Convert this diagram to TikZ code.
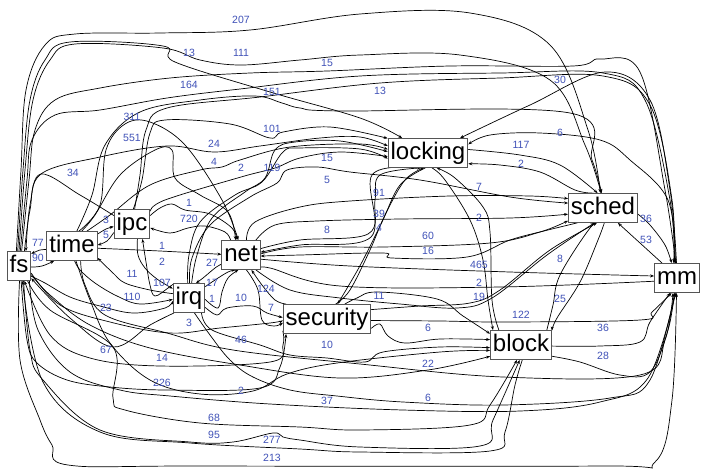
\documentclass[tikz,border=0pt]{standalone}
\usepackage{fontspec}
\setmainfont{Liberation Sans}
\usetikzlibrary{arrows.meta}
\pgfdeclarelayer{bg}
\pgfsetlayers{bg,main}
\definecolor{lblblue}{RGB}{64,82,184}
\definecolor{boxgray}{RGB}{85,85,85}
\tikzset{
  box/.style={draw=boxgray, line width=0.8pt, fill=white, font=\fontsize{24}{24}\selectfont,
    inner xsep=2.5pt, inner ysep=3.25pt, text height=17.5pt, text depth=5pt},
  e/.style={line width=0.7pt, black, -{Stealth[length=4pt,width=3pt]}},
  lbl/.style={font=\fontsize{10.5}{10.5}\selectfont, text=lblblue, inner sep=0pt},
}
\newcommand\myedge[1]{\draw[e] plot[smooth,tension=0.6] coordinates {#1};}
\newcommand\mylab[3]{\node[lbl] (#1) at (#2) {#3};}
\begin{document}
\begin{tikzpicture}[x=1pt,y=-1pt]
\useasboundingbox (0,0) rectangle (704,475);
\begin{pgfonlayer}{bg}
\fill[white] (0,0) rectangle (704,475);
\end{pgfonlayer}
% nodes
\node[box] (fs) at (19,266) {fs};
\node[box] (time) at (72,246) {time};
\node[box] (ipc) at (132,224) {ipc};
\node[box] (net) at (241,255) {net};
\node[box] (irq) at (189,298) {irq};
\node[box] (security) at (327,319) {security};
\node[box] (locking) at (428,153) {locking};
\node[box] (sched) at (603,208) {sched};
\node[box] (block) at (521,345) {block};
\node[box] (mm) at (677,278) {mm};
\begin{pgfonlayer}{bg}
% top long edges
\myedge{(fs.100) (21,170) (26,90) (45,45) (75,34) (160,33) (250,30) (360,14) (470,13) (550,45) (588,130) (sched.100)}
\myedge{(fs.95) (23,170) (30,100) (45,60) (70,42) (163,46) (175,62) (270,92) (360,118) (locking.150)}
\myedge{(fs.90) (25,170) (33,100) (50,60) (75,44) (163,48) (200,60) (241,65) (300,60) (360,55) (460,55) (550,80) (585,145) (sched.97)}
\myedge{(fs.85) (27,180) (32,140) (55,115) (100,110) (167,98) (240,89) (360,76) (500,73) (603,73) (645,100) (670,200) (mm.100)}
\myedge{(fs.80) (29,180) (35,130) (55,100) (100,88) (170,78) (250,73) (327,71) (450,66) (573,66) (600,59) (640,72) (665,190) (mm.95)}
\myedge{(ipc.80) (140,175) (146,130) (167,108) (260,97) (380,83) (500,78) (603,76) (650,105) (672,200) (mm.103)}
\myedge{(mm.92) (670,190) (650,100) (605,72) (530,105) (locking.25)}
\myedge{(time.65) (100,205) (106,150) (125,124) (150,122) (185,145) (222,200) (net.100)}
\myedge{(time.57) (95,215) (120,175) (155,150) (172,150) (175,178) (200,195) (228,212) (net.110)}
\myedge{(time.72) (92,195) (105,145) (140,112) (200,100) (255,96) (282,103) (300,108) (340,111) (570,113) (592,160) (sched.95)}
\myedge{(ipc.85) (142,180) (150,133) (165,120) (230,124) (270,138) (283,132) (330,127) (locking.160)}
\myedge{(fs.70) (30,210) (41,174) (100,157) (167,146) (214,152) (260,146) (320,138) (360,137) (locking.170)}
\myedge{(ipc.155) (80,195) (41,174) (30,205) (fs.65)}
\myedge{(time.45) (110,215) (150,185) (200,170) (222,167) (240,160) (290,147) (360,144) (locking.175)}
\myedge{(ipc.35) (165,200) (241,177) (275,168) (300,158) (340,152) (locking.185)}
\myedge{(irq.80) (197,255) (212,218) (245,192) (265,178) (275,150) (295,142) (340,141) (locking.178)}
\myedge{(irq.95) (189,255) (200,222) (235,195) (262,182) (283,152) (300,148) (360,149) (locking.188)}
\myedge{(irq.88) (192,258) (210,225) (250,197) (277,183) (287,170) (317,167) (350,172) (420,180) (510,197) (sched.172)}
\myedge{(net.70) (255,222) (300,207) (350,201) (450,196) (530,196) (sched.165)}
\myedge{(net.45) (275,225) (317,221) (400,219) (510,218) (sched.190)}
\myedge{(net.18) (300,240) (368,234) (375,200) (380,175) (locking.-115)}
\myedge{(locking.-125) (372,175) (371,237) (300,245) (net.8)}
\myedge{(security.60) (350,290) (370,250) (385,215) (405,180) (locking.-105)}
\myedge{(locking.-100) (400,185) (382,222) (362,262) (346,290) (security.55)}
\myedge{(locking.-75) (445,180) (470,220) (483,260) (488,300) (block.152)}
\myedge{(block.146) (492,300) (490,232) (483,207) (455,178) (locking.-60)}
% locking / sched / mm
\myedge{(locking.5) (520,155) (560,165) (sched.110)}
\myedge{(sched.120) (575,190) (540,172) (500,165) (locking.-15)}
\myedge{(mm.96) (668,200) (630,160) (600,140) (540,133) (490,135) (locking.12)}
\myedge{(sched.-10) (650,225) (665,245) (mm.110)}
\myedge{(mm.135) (640,243) (sched.-45)}
\myedge{(net.3) (300,247) (383,247) (490,243) (540,232) (sched.-160)}
\myedge{(sched.-150) (548,230) (510,240) (467,257) (392,258) (383,253) (300,255) (net.-3)}
\myedge{(net.-12) (350,266) (510,272) (mm.175)}
\myedge{(mm.188) (500,287) (340,286) (270,268) (net.-35)}
\myedge{(net.-45) (290,290) (340,298) (400,304) (457,308) (492,298) (547,255) (sched.-120)}
\myedge{(security.12) (420,306) (470,303) (500,290) (550,250) (sched.-112)}
\myedge{(block.30) (553,305) (560,275) (590,228) (sched.-100)}
\myedge{(sched.-85) (598,240) (580,282) (557,318) (block.25)}
\myedge{(security.-2) (440,321) (507,322) (640,320) (652,312) (mm.-110)}
\myedge{(security.-12) (380,324) (388,336) (405,343) (440,339) (block.170)}
\myedge{(security.40) (357,298) (377,292) (437,299) (463,316) (block.160)}
\myedge{(block.-2) (600,346) (640,342) (650,322) (mm.-115)}
\myedge{(block.-20) (580,362) (620,375) (650,372) (668,330) (mm.-100)}
% left cluster
\myedge{(time.188) (40,250) (fs.45)}
\myedge{(fs.-5) (42,266) (time.-140)}
\myedge{(time.25) (106,229) (ipc.188)}
\myedge{(ipc.-155) (107,241) (time.2)}
\myedge{(time.-5) (160,251) (net.178)}
\myedge{(ipc.25) (160,208) (172,204) (185,210) (210,214) (232,228) (net.105)}
\myedge{(net.125) (225,232) (205,226) (188,228) (170,233) (ipc.-12)}
\myedge{(irq.165) (150,290) (125,283) (113,273) (time.-25)}
\myedge{(time.-80) (80,270) (95,283) (117,296) (140,304) (irq.-175)}
\myedge{(ipc.-70) (138,255) (145,268) (157,279) (irq.150)}
\myedge{(irq.140) (168,288) (155,296) (150,285) (146,262) (ipc.-55)}
\myedge{(fs.-40) (45,283) (70,297) (100,306) (133,313) (165,308) (irq.-170)}
\myedge{(net.-155) (215,268) (203,278) (irq.65)}
\myedge{(irq.35) (215,280) (228,272) (net.-110)}
\myedge{(irq.-5) (218,308) (222,292) (228,278) (net.-100)}
\myedge{(irq.-30) (217,315) (227,308) (253,306) (267,313) (security.178)}
\myedge{(security.160) (275,300) (262,285) (net.-55)}
\myedge{(net.-70) (258,290) (262,320) (274,326) (security.-175)}
\myedge{(fs.-30) (60,305) (110,322) (170,333) (220,328) (270,323) (security.-178)}
% bottom
\myedge{(time.-60) (85,285) (105,315) (167,333) (233,350) (360,364) (503,377) (640,375) (665,340) (mm.-105)}
\myedge{(irq.-135) (150,325) (113,347) (70,318) (fs.-45)}
\myedge{(fs.-60) (50,310) (113,347) (113,398) (125,410) (200,423) (300,427) (360,430) (470,425) (490,405) (block.-105)}
\myedge{(security.-165) (283,345) (270,362) (160,366) (90,358) (50,335) (fs.-70)}
\myedge{(fs.-82) (27,340) (37,363) (67,380) (110,387) (167,390) (260,388) (280,367) (security.-160)}
\myedge{(time.-75) (90,300) (110,343) (150,380) (200,394) (253,391) (287,374) (337,363) (440,352) (block.-170)}
\myedge{(fs.-35) (50,295) (90,325) (150,348) (240,365) (340,378) (428,370) (block.-160)}
\myedge{(irq.-50) (212,330) (260,345) (290,355) (327,358) (365,362) (383,352) (440,347) (block.-175)}
\myedge{(irq.-70) (210,335) (230,360) (253,377) (290,390) (337,396) (403,402) (503,405) (610,398) (650,380) (mm.-98)}
\myedge{(fs.-55) (38,330) (70,372) (120,390) (170,396) (270,404) (403,410) (520,411) (600,402) (648,378) (mm.-95)}
\myedge{(fs.-73) (30,350) (43,380) (100,430) (190,442) (233,442) (273,433) (283,437) (300,440) (360,447) (480,446) (493,420) (block.-95)}
\myedge{(block.-85) (515,385) (505,432) (490,451) (360,452) (300,449) (190,443) (100,432) (43,382) (fs.-77)}
\myedge{(fs.-88) (20,360) (40,420) (52,445) (68,465) (200,466) (600,466) (655,462) (672,400) (mm.-92)}
\end{pgfonlayer}
% labels
\mylab{a1}{241,20}{207}
\mylab{a2}{189,53}{13}
\mylab{a3}{241,53}{111}
\mylab{a4}{327,63}{15}
\mylab{a5}{189,85}{164}
\mylab{a6}{272,92}{151}
\mylab{a7}{380,91}{13}
\mylab{a8}{560,80}{30}
\mylab{a9}{132,117}{311}
\mylab{a10}{132,138}{551}
\mylab{a11}{272,129}{101}
\mylab{a12}{214,144}{24}
\mylab{a13}{560,133}{6}
\mylab{a14}{521,145}{117}
\mylab{a15}{214,162}{4}
\mylab{a16}{241,168}{2}
\mylab{a17}{272,168}{119}
\mylab{a18}{327,158}{15}
\mylab{a19}{521,164}{2}
\mylab{a20}{327,180}{5}
\mylab{a21}{73,173}{34}
\mylab{a22}{379,193}{91}
\mylab{a23}{479,187}{7}
\mylab{a24}{189,203}{1}
\mylab{a25}{189,219}{720}
\mylab{a26}{379,214}{39}
\mylab{a27}{479,218}{2}
\mylab{a28}{106,220}{3}
\mylab{a29}{106,235}{5}
\mylab{a30}{379,228}{4}
\mylab{a31}{327,230}{8}
\mylab{a32}{428,236}{60}
\mylab{a33}{38,243}{77}
\mylab{a34}{38,258}{90}
\mylab{a35}{162,246}{1}
\mylab{a36}{428,251}{16}
\mylab{a37}{479,265}{465}
\mylab{a38}{646,219}{36}
\mylab{a39}{646,240}{53}
\mylab{a40}{560,259}{8}
\mylab{a41}{132,274}{11}
\mylab{a42}{162,262}{2}
\mylab{a43}{162,283}{107}
\mylab{a44}{212,263}{27}
\mylab{a45}{212,283}{17}
\mylab{a46}{479,283}{2}
\mylab{a47}{479,297}{19}
\mylab{a48}{132,297}{110}
\mylab{a49}{212,299}{1}
\mylab{a50}{241,298}{10}
\mylab{a51}{266,289}{124}
\mylab{a52}{379,296}{11}
\mylab{a53}{560,299}{25}
\mylab{a54}{106,308}{23}
\mylab{a55}{271,308}{7}
\mylab{a56}{189,323}{3}
\mylab{a57}{521,315}{122}
\mylab{a58}{428,328}{6}
\mylab{a59}{603,328}{36}
\mylab{a60}{106,350}{67}
\mylab{a61}{241,340}{46}
\mylab{a62}{327,345}{10}
\mylab{a63}{162,358}{14}
\mylab{a64}{603,356}{28}
\mylab{a65}{428,364}{22}
\mylab{a66}{162,383}{226}
\mylab{a67}{241,391}{2}
\mylab{a68}{327,401}{37}
\mylab{a69}{428,398}{6}
\mylab{a70}{214,418}{68}
\mylab{a71}{214,435}{95}
\mylab{a72}{272,440}{277}
\mylab{a73}{272,458}{213}
\end{tikzpicture}
\end{document}
